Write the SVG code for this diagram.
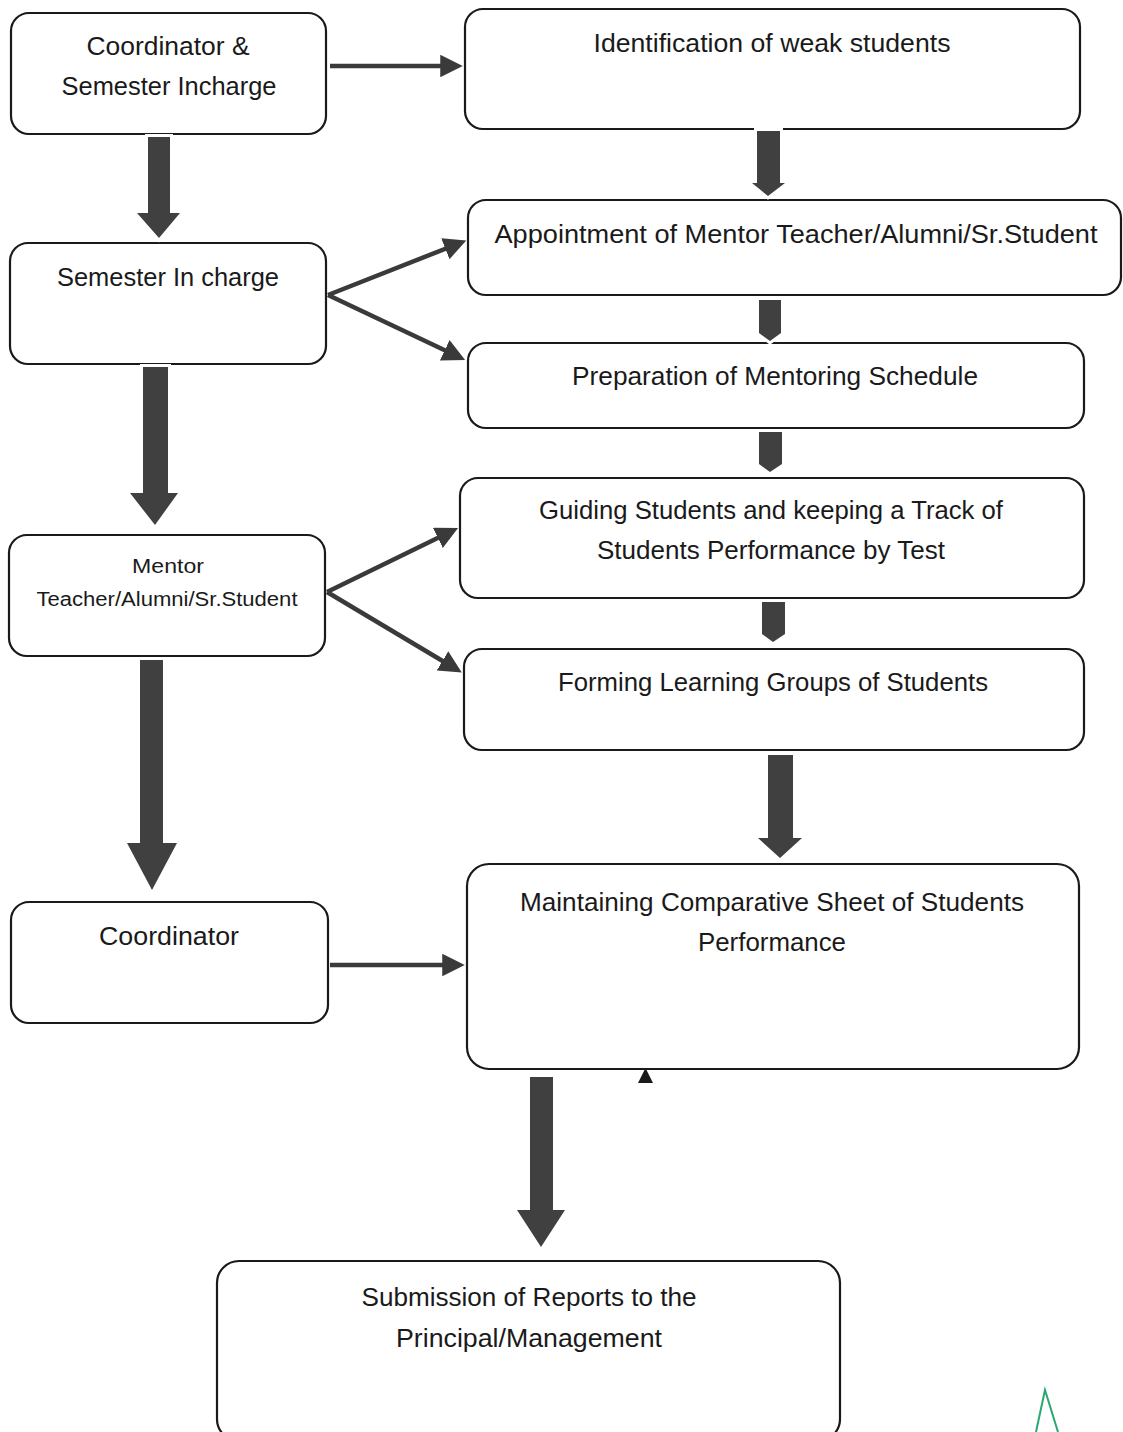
<svg xmlns="http://www.w3.org/2000/svg" width="1123" height="1432" viewBox="0 0 1123 1432">
<style>
.box{fill:#fff;stroke:#1a1a1a;stroke-width:2.2}
.t{font-family:"Liberation Sans",Arial,sans-serif;font-size:25px;fill:#1a1a1a;text-anchor:middle}
.s{font-size:20px}
.blk{fill:#404040;stroke:#fff;stroke-width:6;paint-order:stroke;stroke-linejoin:miter}
.ln{stroke:#3a3a3a;stroke-width:4.5;fill:none}
</style>
<defs>
<marker id="ah" markerWidth="5" markerHeight="5" refX="3.5" refY="2.5" orient="auto" markerUnits="strokeWidth" viewBox="0 0 5 5">
<path d="M0,0 L5,2.5 L0,5 Z" fill="#3a3a3a"/>
</marker>
</defs>
<rect width="1123" height="1432" fill="#fff"/>
<g id="n1"><rect class="box" x="11" y="13" width="315" height="121" rx="18"/>
<text class="t" x="168" y="55" textLength="163" lengthAdjust="spacingAndGlyphs">Coordinator &amp;</text><text class="t" x="169" y="95" textLength="215" lengthAdjust="spacingAndGlyphs">Semester Incharge</text></g>
<g id="n2"><rect class="box" x="465" y="9" width="615" height="120" rx="18"/>
<text class="t" x="772" y="52" textLength="357" lengthAdjust="spacingAndGlyphs">Identification of weak students</text></g>
<g id="n3"><rect class="box" x="468" y="200" width="653" height="95" rx="18"/>
<text class="t" x="796" y="243" textLength="603" lengthAdjust="spacingAndGlyphs">Appointment of Mentor Teacher/Alumni/Sr.Student</text></g>
<g id="n4"><rect class="box" x="10" y="243" width="316" height="121" rx="18"/>
<text class="t" x="168" y="286" textLength="222" lengthAdjust="spacingAndGlyphs">Semester In charge</text></g>
<g id="n5"><rect class="box" x="468" y="343" width="616" height="85" rx="18"/>
<text class="t" x="775" y="385" textLength="406" lengthAdjust="spacingAndGlyphs">Preparation of Mentoring Schedule</text></g>
<g id="n6"><rect class="box" x="460" y="478" width="624" height="120" rx="18"/>
<text class="t" x="771" y="519" textLength="464" lengthAdjust="spacingAndGlyphs">Guiding Students and keeping a Track of</text>
<text class="t" x="771" y="559" textLength="348" lengthAdjust="spacingAndGlyphs">Students Performance by Test</text></g>
<g id="n7"><rect class="box" x="9" y="535" width="316" height="121" rx="18"/>
<text class="t s" x="168" y="573" textLength="72" lengthAdjust="spacingAndGlyphs">Mentor</text>
<text class="t s" x="167" y="606" textLength="261" lengthAdjust="spacingAndGlyphs">Teacher/Alumni/Sr.Student</text></g>
<g id="n8"><rect class="box" x="464" y="649" width="620" height="101" rx="18"/>
<text class="t" x="773" y="691" textLength="430" lengthAdjust="spacingAndGlyphs">Forming Learning Groups of Students</text></g>
<g id="n9"><rect class="box" x="11" y="902" width="317" height="121" rx="18"/>
<text class="t" x="169" y="945" textLength="140" lengthAdjust="spacingAndGlyphs">Coordinator</text></g>
<g id="n10"><rect class="box" x="467" y="864" width="612" height="205" rx="22"/>
<text class="t" x="772" y="911" textLength="504" lengthAdjust="spacingAndGlyphs">Maintaining Comparative Sheet of Students</text>
<text class="t" x="772" y="951" textLength="148" lengthAdjust="spacingAndGlyphs">Performance</text></g>
<g id="n11"><rect class="box" x="217" y="1261" width="623" height="180" rx="22"/>
<text class="t" x="529" y="1306" textLength="335" lengthAdjust="spacingAndGlyphs">Submission of Reports to the</text>
<text class="t" x="529" y="1347" textLength="266" lengthAdjust="spacingAndGlyphs">Principal/Management</text></g>
<g id="connectors">
<path class="blk" d="M148,137 H170 V213 H180 L159,238 L137,213 H148 Z"/>
<path class="blk" d="M757,131 H780 V183 H785 L768,196 L752,183 H757 Z"/>
<path class="blk" d="M759,300 H781 V333 L770,341 L759,333 Z"/>
<path class="blk" d="M759,432 H782 V464 L770,472 L759,464 Z"/>
<path class="blk" d="M762,602 H785 V634 L773,642 L762,634 Z"/>
<path class="blk" d="M768,755 H793 V838 H802 L780,858 L758,838 H768 Z"/>
<path class="blk" d="M143,367 H168 V493 H178 L155,525 L130,493 H143 Z"/>
<path class="blk" d="M140,660 H163 V843 H177 L152,890 L127,843 H140 Z"/>
<path class="blk" d="M530,1077 H553 V1210 H565 L541,1247 L517,1210 H530 Z"/>
<line class="ln" x1="330" y1="66" x2="456" y2="66" marker-end="url(#ah)"/>
<line class="ln" x1="328" y1="295" x2="460" y2="243" marker-end="url(#ah)"/>
<line class="ln" x1="328" y1="295" x2="459" y2="357" marker-end="url(#ah)"/>
<line class="ln" x1="327" y1="592" x2="452" y2="531" marker-end="url(#ah)"/>
<line class="ln" x1="327" y1="592" x2="456" y2="669" marker-end="url(#ah)"/>
<line class="ln" x1="330" y1="965" x2="458" y2="965" marker-end="url(#ah)"/>
</g>
<path d="M638,1083 L645.5,1068 L653,1083 Z" fill="#1a1a1a"/>
<path d="M1036,1432 L1045,1390 L1058,1432" fill="none" stroke="#2aa870" stroke-width="2"/>
</svg>
